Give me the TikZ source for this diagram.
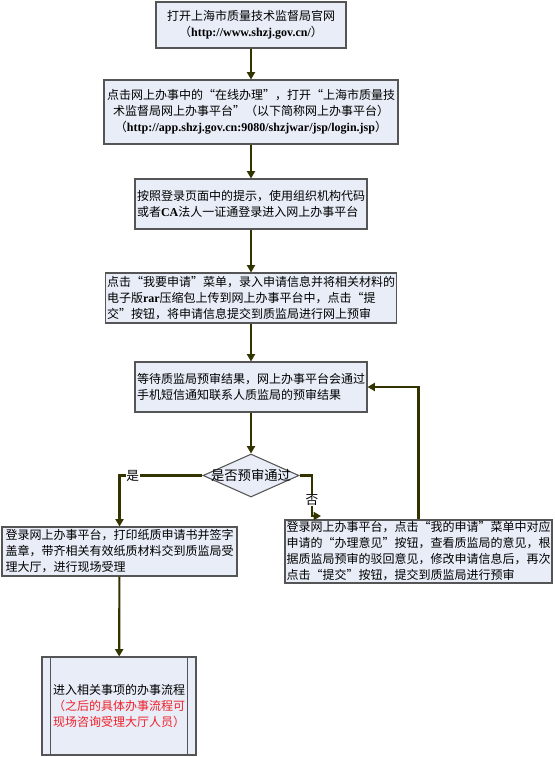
\documentclass[tikz,border=0pt]{standalone}
\usepackage{fontspec}
\setmainfont{Noto Sans CJK SC}
\newfontfamily\latinfont{Liberation Serif}
\usepackage{xcolor}
\usetikzlibrary{arrows.meta,positioning,shapes.geometric,shadows,calc}
\definecolor{boxfill}{HTML}{E8EDF7}
\definecolor{boxline}{HTML}{555555}
\definecolor{olive}{HTML}{333300}
\definecolor{notered}{HTML}{F0202A}
\newcommand{\enb}[1]{{\latinfont\bfseries #1}}
\tikzset{
  stepbox/.style={draw=boxline,fill=boxfill,line width=0.8pt,inner sep=1pt,
                  font=\fontsize{9pt}{12pt}\selectfont,
                  drop shadow={shadow xshift=0.6pt,shadow yshift=-0.6pt,
                               fill=black!25}},
  leftbox/.style={stepbox,align=left},
  midbox/.style={stepbox,align=center},
  decision/.style={diamond,draw=boxline,fill=boxfill,line width=0.8pt,
                   inner sep=0pt,font=\fontsize{9pt}{12pt}\selectfont},
  flowarr/.style={-{Triangle[length=5.5pt,width=6pt]},line width=1.6pt,
                  draw=olive},
  branchlbl/.style={fill=white,inner sep=0.5pt,
                    font=\fontsize{9.5pt}{12pt}\selectfont}
}
\begin{document}
\begin{tikzpicture}[x=0.75pt,y=-0.75pt]
    \path[use as bounding box] (0,0) rectangle (554,757);

    \node[midbox,minimum width=142.5pt,minimum height=34.5pt] (site) at (251,25)
      {打开上海市质量技术监督局官网\\
       （\enb{http://www.shzj.gov.cn/}）};
    \node[midbox,minimum width=220.5pt,minimum height=48pt] (online) at (251,112)
      {点击网上办事中的“在线办理”，打开“上海市质量技\\
       术监督局网上办事平台”（以下简称网上办事平台）\\
       （\enb{http://app.shzj.gov.cn:9080/shzjwar/jsp/login.jsp}）};
    \node[leftbox,minimum width=174pt,minimum height=37.5pt] (login) at (251,204)
      {按照登录页面中的提示，使用组织机构代码\\
       或者\enb{CA}法人一证通登录进入网上办事平台};
    \node[leftbox,minimum width=218.25pt,minimum height=37.5pt] (apply) at (251,298)
      {点击“我要申请”菜单，录入申请信息并将相关材料的\\
       电子版\enb{rar}压缩包上传到网上办事平台中，点击“提\\
       交”按钮，将申请信息提交到质监局进行网上预审};
    \node[leftbox,minimum width=174pt,minimum height=37.5pt] (wait) at (251,387)
      {等待质监局预审结果，网上办事平台会通过\\
       手机短信通知联系人质监局的预审结果};
    \node[decision,minimum width=72pt,minimum height=32.25pt,
          label=center:{是否预审通过}] (check) at (251,475.5) {};
    \node[leftbox,minimum width=176.25pt,minimum height=36.75pt] (onsite) at (119.5,551.5)
      {登录网上办事平台，打印纸质申请书并签字\\
       盖章，带齐相关有效纸质材料交到质监局受\\
       理大厅，进行现场受理};
    \node[leftbox,minimum width=200.25pt,minimum height=47.25pt] (revise) at (418.5,551.5)
      {登录网上办事平台，点击“我的申请”菜单中对应\\
       申请的“办理意见”按钮，查看质监局的意见，根\\
       据质监局预审的驳回意见，修改申请信息后，再次\\
       点击“提交”按钮，提交到质监局进行预审};
    \node[midbox,minimum width=115.5pt,minimum height=73.5pt] (process) at (119,706)
      {进入相关事项的办事流程\\
       \textcolor{notered}{（之后的具体办事流程可}\\
       \textcolor{notered}{现场咨询受理大厅人员）}};
    \draw[boxline,line width=0.8pt]
      ($(process.north west)+(9,0)$) -- ($(process.south west)+(9,0)$)
      ($(process.north east)+(-9,0)$) -- ($(process.south east)+(-9,0)$);

    \coordinate (noend) at (321,516);

    \draw[flowarr] (site) -- (online);
    \draw[flowarr] (online) -- (login);
    \draw[flowarr] (login) -- (apply);
    \draw[flowarr] (apply) -- (wait);
    \draw[flowarr] (wait) -- (check);
    \draw[flowarr] (check.west) -| node[branchlbl,pos=0.42] {是} (onsite.north);
    \draw[flowarr] (check.east) -| node[branchlbl,pos=0.8] {否}
      ($(noend)+(-9,0)$) -- (noend);
    \draw[flowarr] (revise.north) |- (wait.east);
    \draw[flowarr] (onsite) -- (process);
  \end{tikzpicture}
\end{document}
